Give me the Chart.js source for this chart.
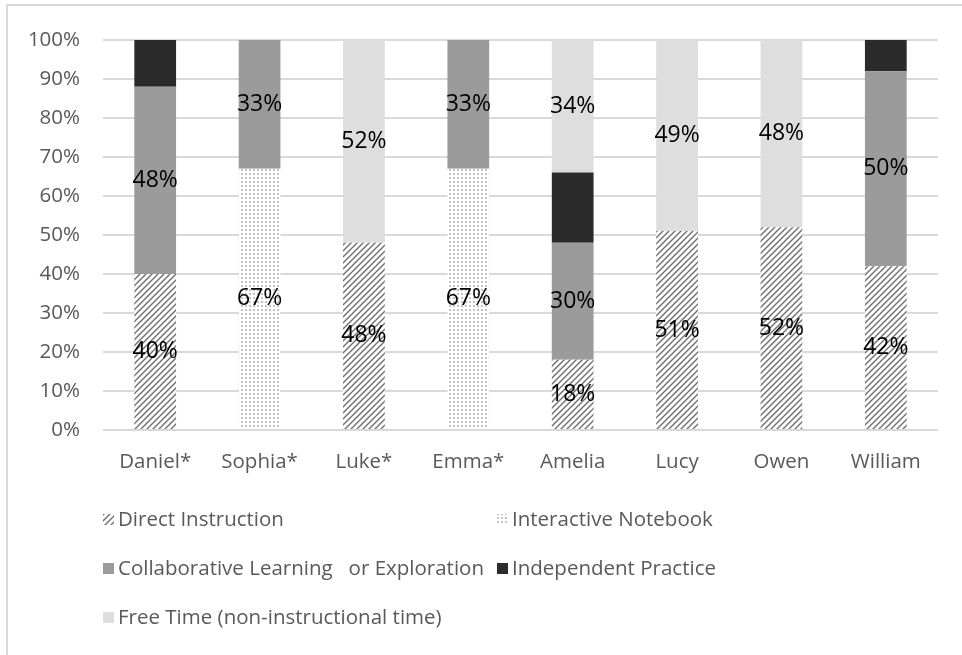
<!DOCTYPE html>
<html>
<head>
<meta charset="utf-8">
<script src="https://cdn.jsdelivr.net/npm/chart.js@4"></script>
<style>
  body { margin: 0; background: #fff; }
  #frame { position: absolute; left: 6px; top: 4px; width: 1000px; height: 700px; border: 2px solid #d9d9d9; }
  #wrap { position: absolute; left: 0; top: 0; width: 962px; height: 655px; }
</style>
</head>
<body>
<div id="frame"></div>
<div id="wrap"><canvas id="chart"></canvas></div>
<script>
const categories = ['Daniel*', 'Sophia*', 'Luke*', 'Emma*', 'Amelia', 'Lucy', 'Owen', 'William'];
const seriesNames = ['Direct Instruction', 'Interactive Notebook', 'Collaborative Learning   or Exploration', 'Independent Practice', 'Free Time (non-instructional time)'];
const directInstruction = [40, 0, 48, 0, 18, 51, 52, 42];
const interactiveNotebook = [0, 67, 0, 67, 0, 0, 0, 0];
const collaborative = [48, 33, 0, 33, 30, 0, 0, 50];
const independentPractice = [12, 0, 0, 0, 18, 0, 0, 8];
const freeTime = [0, 0, 52, 0, 34, 49, 48, 0];
const yTicks = [0, 10, 20, 30, 40, 50, 60, 70, 80, 90, 100];

const FONT = 'Open Sans';

function hatch() {
    const c = document.createElement('canvas');
    c.width = 6; c.height = 6;
    const g = c.getContext('2d');
    g.fillStyle = '#fff';
    g.fillRect(0, 0, 6, 6);
    g.strokeStyle = '#6e6e6e';
    g.lineWidth = 1.4;
    g.beginPath();
    g.moveTo(-1, 7); g.lineTo(7, -1);
    g.moveTo(-4, 4); g.lineTo(4, -4);
    g.moveTo(2, 10); g.lineTo(10, 2);
    g.stroke();
    return g.createPattern(c, 'repeat');
}

function dots() {
    const c = document.createElement('canvas');
    c.width = 4; c.height = 4;
    const g = c.getContext('2d');
    g.fillStyle = '#fff';
    g.fillRect(0, 0, 4, 4);
    g.fillStyle = '#c4c4c4';
    g.fillRect(1, 1, 2, 2);
    return g.createPattern(c, 'repeat');
}

const fills = [hatch(), dots(), '#9b9b9b', '#2b2b2b', '#dedede'];
const values = [directInstruction, interactiveNotebook, collaborative, independentPractice, freeTime];

const datasets = values.map((v, i) => ({
    label: seriesNames[i],
    data: v,
    backgroundColor: fills[i],
    borderWidth: 0,
    barPercentage: 0.4,
    categoryPercentage: 1
}));

// value labels, none for Independent Practice
const valueLabels = {
    id: 'valueLabels',
    afterDatasetsDraw(chart) {
        const ctx = chart.ctx;
        ctx.save();
        ctx.font = '23px "' + FONT + '"';
        ctx.fillStyle = '#000';
        ctx.textAlign = 'center';
        ctx.textBaseline = 'middle';
        chart.data.datasets.forEach((ds, i) => {
            if (i === 3) return;
            chart.getDatasetMeta(i).data.forEach((bar, j) => {
                const v = ds.data[j];
                if (!v) return;
                ctx.fillText(v + '%', bar.x, (bar.y + bar.base) / 2);
            });
        });
        ctx.restore();
    }
};

// legend in two columns like the original
const legendBox = {
    id: 'legendBox',
    afterDraw(chart) {
        const ctx = chart.ctx;
        const a = chart.chartArea;
        const cols = [a.left, a.left + 394];
        const rows = [a.bottom + 89, a.bottom + 138, a.bottom + 187];
        ctx.save();
        ctx.font = '20.5px "' + FONT + '"';
        ctx.textBaseline = 'middle';
        ctx.textAlign = 'left';
        seriesNames.forEach((name, i) => {
            const x = cols[i % 2];
            const y = rows[Math.floor(i / 2)];
            ctx.fillStyle = fills[i];
            ctx.fillRect(x, y - 5, 11, 11);
            ctx.fillStyle = '#595959';
            ctx.fillText(name, x + 15, y + 1);
        });
        ctx.restore();
    }
};

new Chart(document.getElementById('chart'), {
    type: 'bar',
    data: { labels: categories, datasets },
    plugins: [valueLabels, legendBox],
    options: {
        responsive: true,
        maintainAspectRatio: false,
        animation: false,
        layout: { padding: { top: 40, right: 24, bottom: 165, left: 0 } },
        plugins: { legend: { display: false }, tooltip: { enabled: false } },
        scales: {
            x: {
                stacked: true,
                grid: { display: false },
                border: { display: false },
                ticks: { color: '#595959', font: { family: FONT, size: 20.5 }, padding: 12 },
                afterFit(s) { s.height = 60; }
            },
            y: {
                stacked: true,
                min: 0,
                max: 100,
                afterBuildTicks(s) { s.ticks = yTicks.map(v => ({ value: v })); },
                grid: { color: '#d9d9d9', lineWidth: 2, drawTicks: false },
                border: { display: false },
                ticks: {
                    color: '#595959',
                    font: { family: FONT, size: 20.5 },
                    padding: 23,
                    callback: v => v + '%'
                },
                afterFit(s) { s.width = 103; }
            }
        }
    }
});
</script>
</body>
</html>
